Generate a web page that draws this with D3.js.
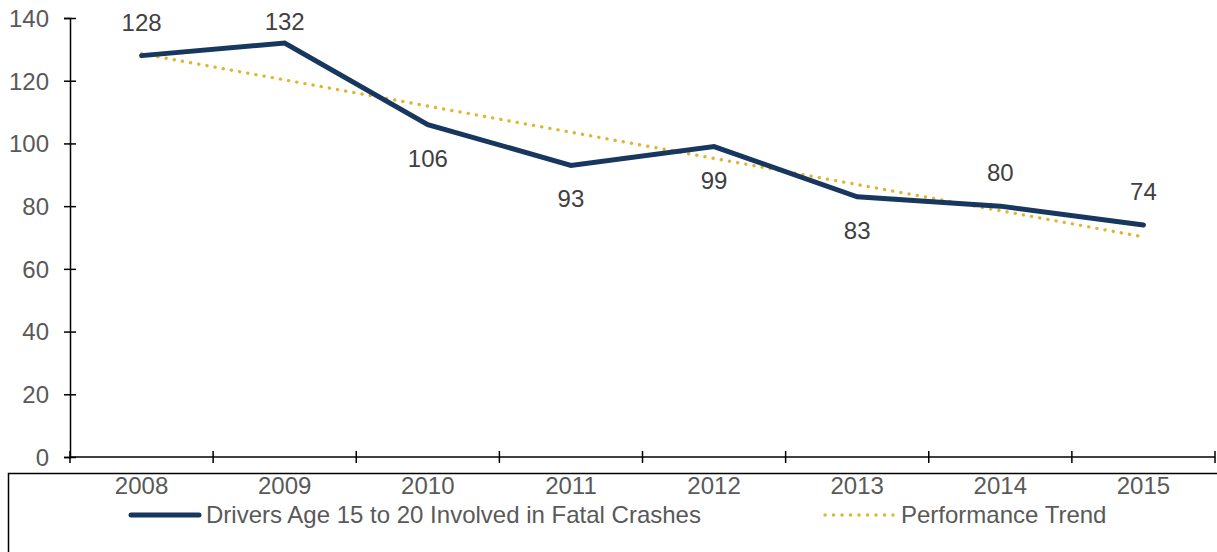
<!DOCTYPE html>
<html>
<head>
<meta charset="utf-8">
<script src="https://cdn.jsdelivr.net/npm/d3@7"></script>
<style>
  body { margin: 0; background: #fff; }
  svg { display: block; font-family: "Liberation Sans", Arial, sans-serif; }
</style>
</head>
<body>
<div id="chart"></div>
<script>
const width = 1217,
    height = 552;

// Chart data
const years = ["2008", "2009", "2010", "2011", "2012", "2013", "2014", "2015"];
const drivers = [128, 132, 106, 93, 99, 83, 80, 74];
const labelSide = ["above", "above", "below", "below", "below", "below", "above", "above"];
// Linear trend, at the first and last year
const trendEnds = [128.6, 70.2];
const yTicks = [0, 20, 40, 60, 80, 100, 120, 140];
const seriesNames = ["Drivers Age 15 to 20 Involved in Fatal Crashes", "Performance Trend"];

const navy = "#17375e",
    gold = "#deb634",
    fontSize = "24px";

const margin = { left: 70, right: 2, top: 18, bottom: 95 };

const x = d3.scaleBand()
    .domain(years)
    .range([margin.left, width - margin.right])
    .padding(0);

const y = d3.scaleLinear()
    .domain([0, 140])
    .range([height - margin.bottom, margin.top]);

const cx = d => x(d) + x.bandwidth() / 2;

const svg = d3.select("#chart")
    .append("svg")
    .attr("width", width)
    .attr("height", height);

// Legend box (runs off the page at right and bottom)
svg.append("rect")
    .attr("x", 8.5)
    .attr("y", 473.5)
    .attr("width", 1400)
    .attr("height", 200)
    .attr("fill", "none")
    .attr("stroke", "#000")
    .attr("stroke-width", 1.5);

// Y axis
const yAxis = svg.append("g")
    .attr("transform", `translate(${margin.left},0)`)
    .call(d3.axisLeft(y).tickValues(yTicks).tickSize(6));
yAxis.attr("font-size", null).attr("font-family", null);
yAxis.select(".domain").attr("stroke", "#000").attr("stroke-width", 1.5);
yAxis.selectAll(".tick line")
    .attr("x1", 6).attr("x2", -6)
    .attr("stroke", "#000").attr("stroke-width", 1.5);
yAxis.selectAll(".tick text")
    .attr("x", -21)
    .attr("dy", "0.35em")
    .attr("fill", "#595959")
    .style("font-size", fontSize);

// X axis: ticks at category boundaries, labels centred in each band
const bounds = years.map(d => x(d)).concat([x.range()[1]]);
const xg = svg.append("g");
xg.append("line")
    .attr("x1", margin.left).attr("x2", x.range()[1])
    .attr("y1", y(0)).attr("y2", y(0))
    .attr("stroke", "#000").attr("stroke-width", 1.5);
xg.selectAll("line.tick")
    .data(bounds)
    .enter()
    .append("line")
    .attr("class", "tick")
    .attr("x1", d => d).attr("x2", d => d)
    .attr("y1", y(0) - 6).attr("y2", y(0) + 6)
    .attr("stroke", "#000").attr("stroke-width", 1.5);
xg.selectAll("text")
    .data(years)
    .enter()
    .append("text")
    .attr("x", d => cx(d))
    .attr("y", 494)
    .attr("text-anchor", "middle")
    .attr("fill", "#595959")
    .style("font-size", fontSize)
    .text(d => d);

// Trend line
svg.append("line")
    .attr("x1", cx(years[0])).attr("y1", y(trendEnds[0]))
    .attr("x2", cx(years[years.length - 1])).attr("y2", y(trendEnds[1]))
    .attr("stroke", gold)
    .attr("stroke-width", 3.4)
    .attr("stroke-linecap", "round")
    .attr("stroke-dasharray", "0.1 8.2");

// Main series
const line = d3.line()
    .x((d, i) => cx(years[i]))
    .y(d => y(d));

svg.append("path")
    .datum(drivers)
    .attr("d", line)
    .attr("fill", "none")
    .attr("stroke", navy)
    .attr("stroke-width", 5)
    .attr("stroke-linejoin", "miter")
    .attr("stroke-linecap", "round");

// Data labels
svg.selectAll("text.label")
    .data(drivers)
    .enter()
    .append("text")
    .attr("class", "label")
    .attr("x", (d, i) => cx(years[i]))
    .attr("y", (d, i) => {
        const c = labelSide[i] === "above" ? y(d) - 33 : y(d) + 34;
        return Math.max(c, 22) + 8;
    })
    .attr("text-anchor", "middle")
    .attr("fill", "#404040")
    .style("font-size", fontSize)
    .text(d => d);

// Legend
const lg = svg.append("g");
lg.append("line")
    .attr("x1", 131).attr("x2", 199)
    .attr("y1", 515).attr("y2", 515)
    .attr("stroke", navy).attr("stroke-width", 5)
    .attr("stroke-linecap", "round");
lg.append("text")
    .attr("x", 206).attr("y", 523)
    .attr("fill", "#595959")
    .style("font-size", fontSize)
    .text(seriesNames[0]);
lg.append("line")
    .attr("x1", 825).attr("x2", 893)
    .attr("y1", 515).attr("y2", 515)
    .attr("stroke", gold).attr("stroke-width", 3.4)
    .attr("stroke-linecap", "round")
    .attr("stroke-dasharray", "0.1 8.4");
lg.append("text")
    .attr("x", 901).attr("y", 523)
    .attr("fill", "#595959")
    .style("font-size", fontSize)
    .text(seriesNames[1]);
</script>
</body>
</html>
